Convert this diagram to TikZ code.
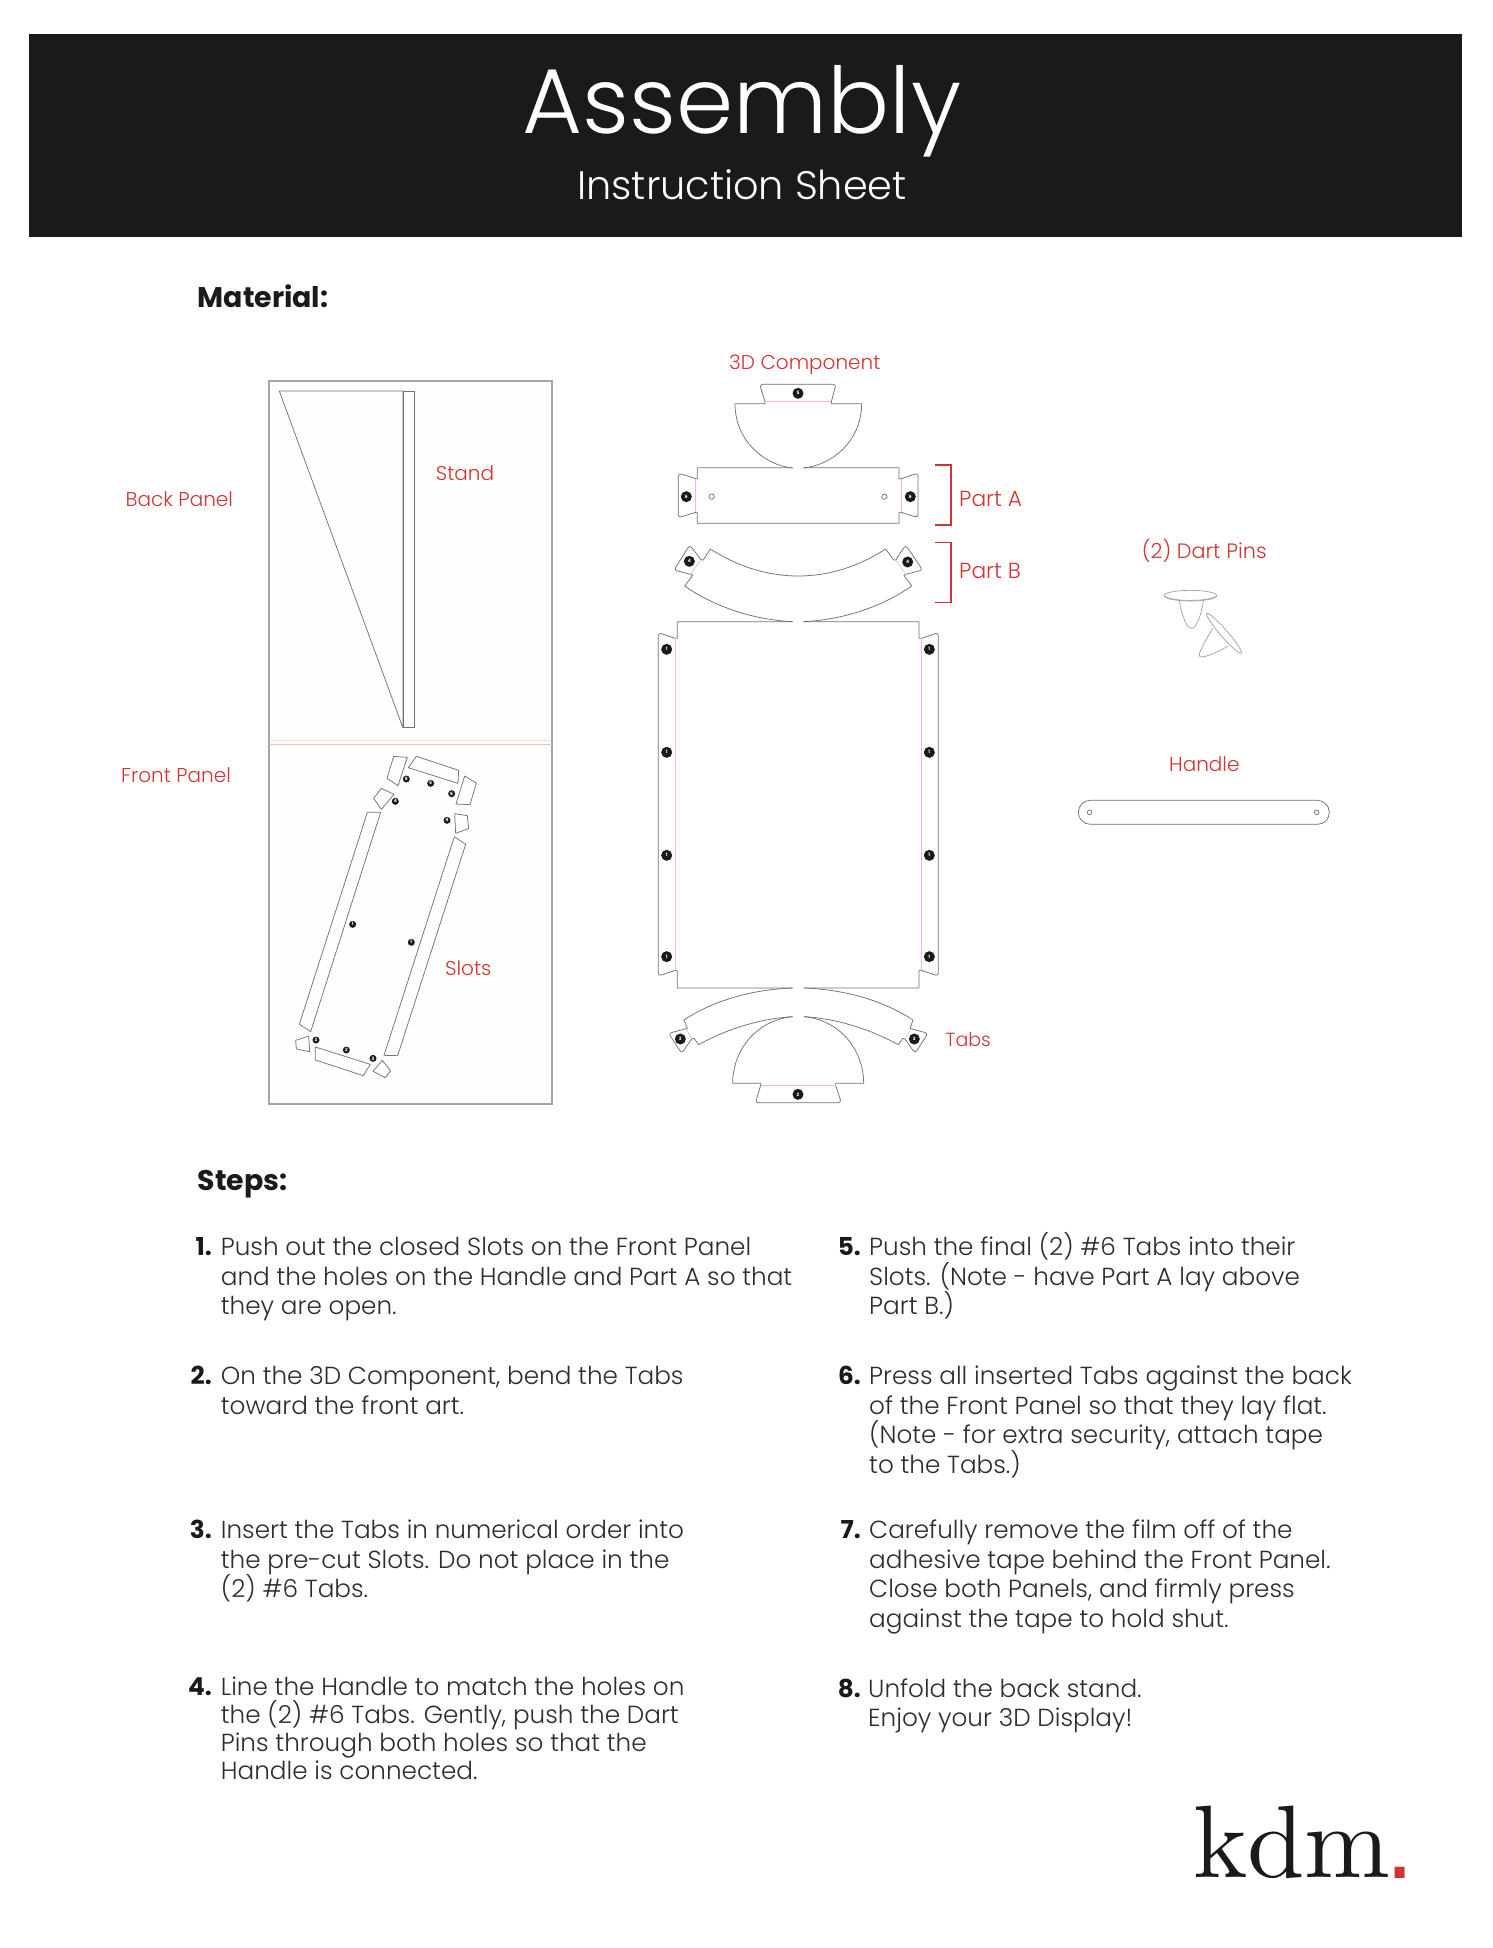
\documentclass[tikz,border=0pt]{standalone}
\usepackage{fontspec}
\setmainfont{Poppins}[UprightFont=* Light,BoldFont=* Bold]
\newfontfamily\dotfont{Poppins}[UprightFont=* Bold]
\newfontfamily\logosans{Liberation Sans}
\newfontfamily\logoserif{lmroman10-regular.otf}
\definecolor{inkdark}{RGB}{26,26,26}
\definecolor{labelred}{RGB}{208,52,52}
\definecolor{pinkline}{RGB}{240,190,190}
\definecolor{cutline}{RGB}{115,115,115}
\definecolor{panelline}{RGB}{165,165,165}
\definecolor{steptext}{RGB}{45,45,45}
\definecolor{panelfill}{RGB}{254,254,252}
\newcommand{\firstln}{\rule{0pt}{25pt}}
\newcommand{\numdot}[4]{\node[numdotstyle,minimum size=#1pt] (#2) at #3 {#4};}
\lineskiplimit=-100pt
\tikzset{
  cut/.style={draw=cutline,line width=0.75pt,line join=round},
  fold/.style={draw=pinkline,line width=0.65pt},
  red label/.style={anchor=base west,inner sep=0pt,text=labelred,font=\fontsize{20}{24}\selectfont},
  head label/.style={anchor=base west,inner sep=0pt,text=inkdark,font=\fontsize{28.4}{34}\selectfont\bfseries},
  stepnum/.style={anchor=base east,inner sep=0pt,text=inkdark,font=\fontsize{24.7}{29.5}\selectfont\bfseries},
  steptxt/.style={anchor=north west,inner sep=0pt,align=left,text=steptext,font=\fontsize{24.7}{29.5}\selectfont},
  tighttxt/.style={steptxt,font=\fontsize{24.7}{27.7}\selectfont},
  numdotstyle/.style={circle,fill=inkdark,inner sep=0pt,text=white,font=\fontsize{4.5}{5}\dotfont},
  bracket/.style={draw=labelred,line width=1.3pt},
}
\begin{document}
\begin{tikzpicture}[x=1pt,y=-1pt]
\useasboundingbox (0,0) rectangle (1492,1948);
\fill[white] (0,0) rectangle (1492,1948);
% header
\fill[inkdark] (29,34) rectangle (1461.5,236.5);
\node[anchor=base,inner sep=0pt,text=white,font=\fontsize{92}{100}\selectfont] (title) at (742,134) {Assembly};
\node[anchor=base,inner sep=0pt,text=white,font=\fontsize{39.8}{44}\selectfont] (subtitle) at (742,199) {Instruction Sheet};
\node[head label] (material) at (197.5,307.2) {Material:};
\node[head label] (steps) at (197.5,1190.5) {Steps:};
% panel
\draw[draw=panelline,line width=1.4pt,fill=panelfill] (269,381) rectangle (552,1104);
\draw[cut] (279.3,391) -- (403,391) -- (403,728) -- cycle;
\draw[cut] (403,391) rectangle (414.7,727.5);
\draw[draw=pinkline,line width=0.6pt,opacity=.5] (269,740.5) -- (552,740.5);
\draw[fold] (269,744.5) -- (552,744.5);
% slots
\begin{scope}[shift={(260,740)},scale=1/3]
\draw[cut] (401,49) -- (442,52) -- (414,137) -- (381,115) -- cycle;
\draw[cut] (469,49) -- (596,91) -- (594,130) -- (445,83) -- cycle;
\draw[cut] (614,108) -- (649,129) -- (630,194) -- (588,192) -- cycle;
\draw[cut] (364,145) -- (402,163) -- (364,208) -- (341,175) -- cycle;
\draw[cut] (584,221) -- (622,227) -- (626,266) -- (587,280) -- cycle;
\draw[cut] (322,217) -- (362,217) -- (152,875) -- (118,853) -- cycle;
\draw[cut] (583,290) -- (617,313) -- (413,947) -- (372,946) -- cycle;
\draw[cut] (107,901) -- (146,888) -- (149,935) -- (109,927) -- cycle;
\draw[cut] (166,921) -- (331,973) -- (310,1007) -- (166,960) -- cycle;
\draw[cut] (367,961) -- (392,993) -- (376,1013) -- (339,994) -- cycle;
\numdot{7}{s1}{(439,117)}{6}
\numdot{7}{s2}{(512,130)}{5}
\numdot{7}{s3}{(575,161)}{6}
\numdot{7}{s4}{(406,184)}{4}
\numdot{7}{s5}{(561,241)}{4}
\numdot{7}{s6}{(278,553)}{1}
\numdot{7}{s7}{(454,607)}{1}
\numdot{7}{s8}{(168,900)}{3}
\numdot{7}{s9}{(259,930)}{2}
\numdot{7}{s10}{(339,955)}{3}
\end{scope}
% upper strip parts
\begin{scope}[shift={(650,370)},scale=1/3]
% top cap
\draw[cut] (428,294) .. controls (340,285) and (255,210) .. (255,101) -- (345,101) -- (345,95)
  [rounded corners=3pt] -- (329,43) -- (558,43) [sharp corners] -- (544,95) -- (544,101) -- (635,101)
  .. controls (635,210) and (550,285) .. (460,294);
\draw[fold] (345,95) -- (544,95);
\numdot{11}{t5}{(444,70)}{5}
% part A
\draw[cut] (428,293) -- (142,293) -- (142,326) -- (137,326) [rounded corners=3pt] -- (85,309) -- (85,443) [sharp corners] -- (137,427) -- (142,427) -- (142,460) -- (747,460) -- (747,427) -- (754,427) [rounded corners=3pt] -- (804,443) -- (804,309) [sharp corners] -- (754,326) -- (747,326) -- (747,293) -- (460,293);
\draw[fold] (137,326) -- (137,427);
\draw[fold] (754,326) -- (754,427);
\numdot{11}{a6l}{(109,380)}{6}
\numdot{11}{a6r}{(781,380)}{6}
\draw[cut] (185,380) circle[radius=8];
\draw[cut] (703,380) circle[radius=8];
% part B
\draw[cut] (428,755) .. controls (320,750) and (200,715) .. (104,648) -- (128,616) -- (122,613)
  [rounded corners=3pt] -- (72,600) -- (119,525) [sharp corners] -- (153,569) -- (160,570) -- (181,537)
  .. controls (350,645) and (540,645) .. (707,537) -- (731,570) -- (737,570)
  [rounded corners=3pt] -- (767,525) -- (818,600) [sharp corners] -- (767,613) -- (762,616) -- (785,648)
  .. controls (690,715) and (570,750) .. (460,755);
\draw[fold] (122,613) -- (153,569);
\draw[fold] (737,570) -- (767,613);
\numdot{11}{b4l}{(118,574)}{4}
\numdot{11}{b4r}{(773,576)}{4}
% main panel
\draw[cut] (428,755) -- (82,755) -- (82,805) -- (76,805) [rounded corners=3pt] -- (25,788) -- (25,1818) [sharp corners] -- (76,1801) -- (82,1801) -- (82,1854) -- (428,1854);
\draw[cut] (460,755) -- (807,755) -- (807,805) -- (814,805) [rounded corners=3pt] -- (865,788) -- (865,1818) [sharp corners] -- (814,1801) -- (807,1801) -- (807,1854) -- (462,1854);
\draw[fold] (76,805) -- (76,1801);
\draw[fold] (814,805) -- (814,1801);
\numdot{11}{p1}{(50,838)}{1}
\numdot{11}{p2}{(50,1147)}{1}
\numdot{11}{p3}{(50,1456)}{1}
\numdot{11}{p4}{(50,1760)}{1}
\numdot{11}{p5}{(838,838)}{1}
\numdot{11}{p6}{(838,1147)}{1}
\numdot{11}{p7}{(838,1456)}{1}
\numdot{11}{p8}{(838,1760)}{1}
% brackets
\draw[bracket] (855,285) -- (903,285) -- (903,465) -- (855,465);
\draw[bracket] (855,517) -- (903,517) -- (903,697) -- (855,697);
\end{scope}
% lower parts
\begin{scope}[shift={(650,940)},scale=1/3]
\draw[cut] (428,144) .. controls (320,148) and (200,175) .. (102,240) -- (112,265) -- (108,266)
  [rounded corners=3pt] -- (56,280) -- (95,340) [sharp corners] -- (125,297) -- (132,295) -- (146,314)
  .. controls (240,262) and (340,235) .. (428,230);
\draw[cut] (462,144) .. controls (570,148) and (690,175) .. (789,240) -- (780,265) -- (783,266)
  [rounded corners=3pt] -- (834,280) -- (795,340) [sharp corners] -- (765,297) -- (758,295) -- (745,314)
  .. controls (650,262) and (550,235) .. (462,230);
\draw[fold] (108,266) -- (125,297);
\draw[fold] (783,266) -- (765,297);
\numdot{11}{c3l}{(91,297)}{3}
\numdot{11}{c3r}{(793,297)}{3}
\draw[cut] (428,230) .. controls (320,240) and (248,330) .. (248,430) -- (332,430) -- (332,436)
  [rounded corners=3pt] -- (316,488) -- (574,488) [sharp corners] -- (557,436) -- (557,430) -- (641,430)
  .. controls (641,330) and (570,240) .. (462,230);
\draw[fold] (332,436) -- (557,436);
\numdot{11}{d2}{(444,463)}{2}
\end{scope}
% pins and handle
\begin{scope}[shift={(1060,530)},scale=1/3]
\draw[cut,draw=panelline] (391,197) ellipse[x radius=79,y radius=16];
\draw[cut,draw=panelline] (313,197) .. controls (330,216) and (452,216) .. (470,197);
\draw[cut,draw=panelline] (358,213) .. controls (366,260) and (380,295) .. (395,295) .. controls (410,295) and (425,250) .. (430,213);
\draw[cut,draw=panelline,rotate around={-49:(492,310)}] (492,310) ellipse[x radius=79,y radius=11];
\draw[cut,draw=panelline] (458,295) .. controls (435,335) and (410,375) .. (420,380) .. controls (435,385) and (480,362) .. (505,348);
\draw[cut,rounded corners=12pt] (55,811) rectangle (808,883);
\draw[cut] (89,847) circle[radius=7];
\draw[cut] (770,847) circle[radius=7];
\end{scope}
% red labels
\node[red label] (l3d) at (729,369) {3D Component};
\node[red label] (lback) at (125.5,506) {Back Panel};
\node[red label] (lstand) at (435.7,480.7) {Stand};
\node[red label] (lfront) at (121,782) {Front Panel};
\node[red label] (lslots) at (445,975) {Slots};
\node[red label,font=\fontsize{21.8}{24}\selectfont] (lparta) at (959,506.5) {Part A};
\node[red label,font=\fontsize{21.8}{24}\selectfont] (lpartb) at (959,578.5) {Part B};
\node[red label,font=\fontsize{19}{24}\selectfont] (ltabs) at (945.5,1046) {Tabs};
\node[red label,font=\fontsize{20.8}{24}\selectfont] (lpins) at (1141.7,558) {(2) Dart Pins};
\node[red label] (lhandle) at (1169,771.7) {Handle};
% steps
\node[stepnum] (n1) at (212,1255.3) {1.};
\node[steptxt] (t1) at (220.7,1230.3) {\firstln Push out the closed Slots on the Front Panel\\and the holes on the Handle and Part A so that\\they are open.};
\node[stepnum] (n2) at (212,1384.3) {2.};
\node[steptxt] (t2) at (220.7,1359.3) {\firstln On the 3D Component, bend the Tabs\\toward the front art.};
\node[stepnum] (n3) at (212,1538.3) {3.};
\node[steptxt] (t3) at (220.7,1513.3) {\firstln Insert the Tabs in numerical order into\\the pre-cut Slots. Do not place in the\\(2) \#6 Tabs.};
\node[stepnum] (n4) at (212,1695.7) {4.};
\node[tighttxt] (t4) at (220.7,1670.7) {\firstln Line the Handle to match the holes on\\the (2) \#6 Tabs. Gently, push the Dart\\Pins through both holes so that the\\Handle is connected.};
\node[stepnum] (n5) at (861,1255.3) {5.};
\node[steptxt] (t5t) at (869,1230.3) {\firstln Push the final (2) \#6 Tabs into their\\Slots. (Note - have Part A lay above\\Part B.)};
\node[stepnum] (n6) at (861,1384.3) {6.};
\node[steptxt] (t6) at (869,1359.3) {\firstln Press all inserted Tabs against the back\\of the Front Panel so that they lay flat.\\(Note - for extra security, attach tape\\to the Tabs.)};
\node[stepnum] (n7) at (861,1538.3) {7.};
\node[steptxt] (t7) at (869,1513.3) {\firstln Carefully remove the film off of the\\adhesive tape behind the Front Panel.\\Close both Panels, and firmly press\\against the tape to hold shut.};
\node[stepnum] (n8) at (861,1697) {8.};
\node[steptxt] (t8) at (868,1672) {\firstln Unfold the back stand.\\Enjoy your 3D Display!};
% logo
\node[anchor=base west,inner sep=0pt,text=inkdark,font=\fontsize{103}{105}\logoserif] (kdm) at (1193,1877.7) {kdm\kern-5.1pt\raisebox{-1pt}{\color{labelred}\fontsize{105}{105}\logosans .}};
\end{tikzpicture}
\end{document}
